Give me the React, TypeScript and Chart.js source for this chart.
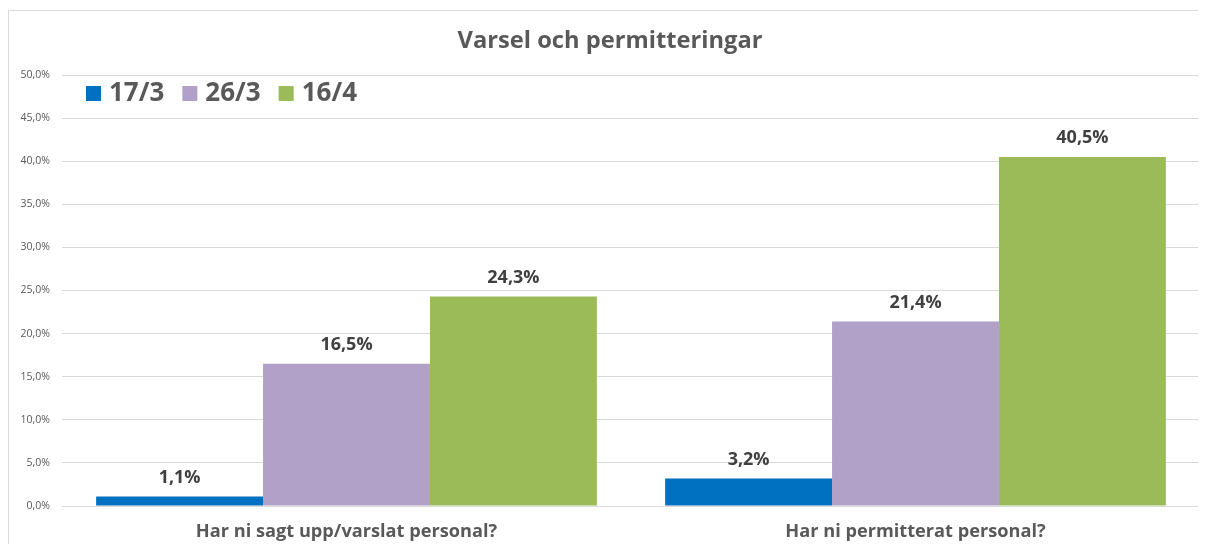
import React, { useEffect, useRef } from "react";
import { Chart, registerables } from "chart.js";

Chart.register(...registerables);

const chartTitle = "Varsel och permitteringar";
const categories = ["Har ni sagt upp/varslat personal?", "Har ni permitterat personal?"];
const seriesNames = ["17/3", "26/3", "16/4"];
const series17_3 = [1.1, 3.2];
const series26_3 = [16.5, 21.4];
const series16_4 = [24.3, 40.5];
const seriesColors = ["#0070C0", "#B1A0C7", "#9BBB59"];
const yMin = 0;
const yMax = 50;
const yStep = 5;

const FONT = "'Open Sans', Lato, sans-serif";
const fmt = (v: number) => v.toFixed(1).replace(".", ",") + "%";

const decorPlugin = {
  id: "decor",
  beforeDraw(chart: any) {
    const ctx = chart.ctx;
    ctx.save();
    ctx.strokeStyle = "#D9D9D9";
    ctx.lineWidth = 1;
    ctx.beginPath();
    ctx.moveTo(0.5, chart.height);
    ctx.lineTo(0.5, 2.5);
    ctx.lineTo(chart.width, 2.5);
    ctx.stroke();
    ctx.restore();
  },
  afterDraw(chart: any) {
    const ctx = chart.ctx;
    const area = chart.chartArea;
    ctx.save();
    // title
    ctx.font = `bold 23.7px ${FONT}`;
    ctx.fillStyle = "#595959";
    ctx.textAlign = "center";
    ctx.textBaseline = "middle";
    ctx.fillText(chartTitle, 602, 33);
    // legend
    let x = area.left + 24;
    const cy = area.top + 18;
    ctx.textAlign = "left";
    ctx.font = `bold 26px ${FONT}`;
    seriesNames.forEach((name, i) => {
      ctx.fillStyle = seriesColors[i];
      ctx.fillRect(x, cy - 7, 15, 15);
      ctx.fillStyle = "#595959";
      ctx.fillText(name, x + 23, cy + 1);
      x = x + 23 + ctx.measureText(name).width + 18;
    });
    // data labels
    ctx.font = `bold 18px ${FONT}`;
    ctx.fillStyle = "#404040";
    ctx.textAlign = "center";
    ctx.textBaseline = "middle";
    chart.data.datasets.forEach((ds: any, di: number) => {
      const meta = chart.getDatasetMeta(di);
      meta.data.forEach((bar: any, i: number) => {
        ctx.fillText(fmt(ds.data[i]), bar.x, bar.y - 19);
      });
    });
    ctx.restore();
  },
};

export default function App() {
  const ref = useRef<HTMLCanvasElement | null>(null);
  useEffect(() => {
    if (!ref.current) return;
    const chart = new Chart(ref.current, {
      type: "bar",
      data: {
        labels: categories,
        datasets: [
          { label: seriesNames[0], data: series17_3, backgroundColor: seriesColors[0] },
          { label: seriesNames[1], data: series26_3, backgroundColor: seriesColors[1] },
          { label: seriesNames[2], data: series16_4, backgroundColor: seriesColors[2] },
        ],
      },
      options: {
        animation: false,
        responsive: false,
        maintainAspectRatio: false,
        layout: { padding: { left: 0, right: 6, top: 67, bottom: 0 } },
        datasets: { bar: { categoryPercentage: 0.88, barPercentage: 1.0 } },
        plugins: {
          legend: { display: false },
          title: { display: false },
          tooltip: { enabled: false },
        },
        scales: {
          x: {
            grid: { display: false, drawTicks: false },
            border: { color: "#D9D9D9" },
            ticks: {
              color: "#595959",
              font: { family: FONT, size: 18.2, weight: "bold" },
              padding: 15,
              maxRotation: 0,
            },
            afterFit: (s: any) => { s.height = 38; },
          },
          y: {
            min: yMin,
            max: yMax,
            grid: { color: "#D9D9D9", drawTicks: false },
            border: { display: false },
            ticks: {
              stepSize: yStep,
              color: "#595959",
              font: { family: FONT, size: 10.5 },
              padding: 12,
              callback: (v: any) => fmt(Number(v)),
            },
            afterFit: (s: any) => { s.width = 54; },
          },
        },
      },
      plugins: [decorPlugin],
    });
    return () => chart.destroy();
  }, []);
  return <canvas ref={ref} width={1198} height={536} style={{ display: "block" }} />;
}
